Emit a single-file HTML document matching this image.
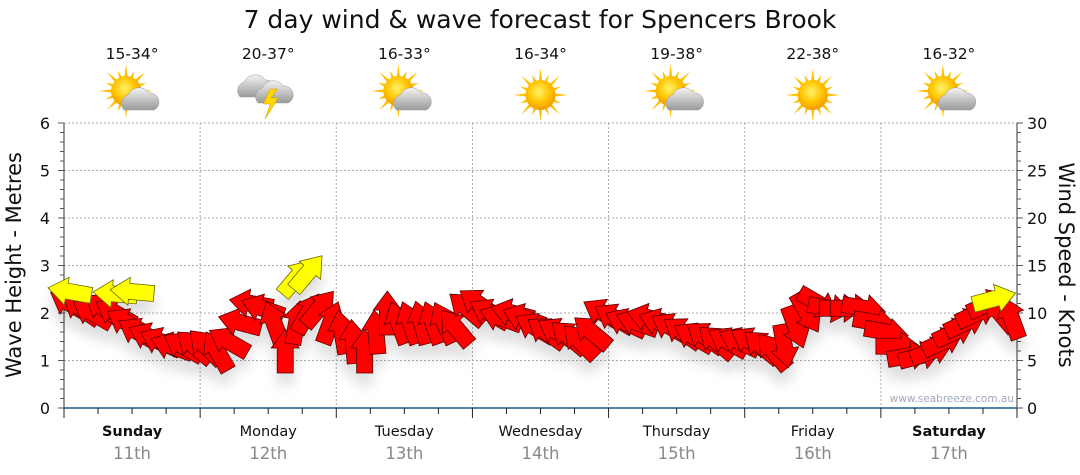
<!DOCTYPE html>
<html><head><meta charset="utf-8"><style>
html,body{margin:0;padding:0;background:#fff;}
svg{display:block;font-family:"DejaVu Sans","Liberation Sans",sans-serif;}
</style></head><body>
<svg id="chart" width="1080" height="475" viewBox="0 0 1080 475">
<defs>
<filter id="sh" x="-50%" y="-50%" width="200%" height="250%"><feDropShadow dx="0" dy="12" stdDeviation="6" flood-color="#000" flood-opacity="0.13"/></filter>
<radialGradient id="sun" cx="0.45" cy="0.4" r="0.6"><stop offset="0" stop-color="#fff36a"/><stop offset="0.6" stop-color="#ffc400"/><stop offset="1" stop-color="#f29a00"/></radialGradient>
<linearGradient id="cloud" x1="0" y1="0" x2="0" y2="1"><stop offset="0" stop-color="#f4f4f4"/><stop offset="1" stop-color="#9a9a9a"/></linearGradient>
</defs>
<text x="540" y="28" text-anchor="middle" font-size="25" fill="#111">7 day wind &amp; wave forecast for Spencers Brook</text>
<g id="grid"></g>
<g id="axes"></g>
<g id="days"></g>
<g id="marks" filter="url(#sh)"></g>
<text x="0" y="0" transform="translate(21,265) rotate(-90)" text-anchor="middle" font-size="21" fill="#111">Wave Height - Metres</text>
<text x="0" y="0" transform="translate(1059,265) rotate(90)" text-anchor="middle" font-size="21" fill="#111">Wind Speed - Knots</text>
<text x="1014" y="402" text-anchor="end" font-size="10.5" fill="#a0a8b8">www.seabreeze.com.au</text>
</svg>
<script>
const dayNames = ["Sunday","Monday","Tuesday","Wednesday","Thursday","Friday","Saturday"];
const dayDates = ["11th","12th","13th","14th","15th","16th","17th"];
const boldDays = [true,false,false,false,false,false,true];
const temps = ["15-34°","20-37°","16-33°","16-34°","19-38°","22-38°","16-32°"];
const icons = ["partly","storm","partly","sun","partly","sun","partly"];
const waveTicks = [0,1,2,3,4,5,6];
const windTicks = [0,5,10,15,20,25,30];
const windKnots = [
 11,10.5,10,10.5,10,9,8,7.5,7,6.5,6.5,6.5,
 6.5,6,7,9,11,10.5,9,6,9,10,10.5,9,
 8,7,6,8,10,9,9,9,9,9,8.5,10.5,
 11,10,9.5,10,9.5,8.5,8,8,7.5,7,8,10,
 9.5,9,9,9.5,9,8.5,8,7.5,7.5,7,7,7,
 7,6.5,6,6.5,8.5,10,11,10.5,10.5,10.5,10.5,9,
 8,6.5,5.5,5.5,6,7,8,9,10,11,10,9.5];
const windDir = [
 150,145,150,145,150,150,150,155,155,160,150,140,
 135,120,150,165,170,160,110,90,80,60,50,70,
 100,95,90,95,90,110,110,105,110,115,130,140,
 145,150,160,165,160,150,145,150,140,135,140,150,
 150,155,160,165,160,150,145,150,145,140,150,155,
 150,140,130,-80,-70,-60,-30,-10,0,0,-10,-10,
 -10,0,10,15,20,25,25,25,25,25,130,110];
const waveHours = [1,9,12,41,43,164];
const waveHeight = [2.45,2.4,2.45,2.75,2.85,2.3];
const waveDir = [170,175,175,50,50,15];

const NS="http://www.w3.org/2000/svg";
const X0=64,X1=1017,YB=408,YT=123;
const xHour=h=>X0+(X1-X0)*h/168;
const yWave=m=>YB-(YB-YT)*m/6;
const yKn=k=>YB-(YB-YT)*k/30;
function mk(tag,attrs,parent){const e=document.createElementNS(NS,tag);for(const k in attrs)e.setAttribute(k,attrs[k]);parent.appendChild(e);return e;}
const grid=document.getElementById('grid'),axes=document.getElementById('axes'),days=document.getElementById('days'),marks=document.getElementById('marks');
waveTicks.forEach(m=>{if(m>0){const l=mk('line',{x1:X0,x2:X1,y1:yWave(m),y2:yWave(m),stroke:'#aaa','stroke-dasharray':'2,2'},grid);

}});
for(let d=1;d<7;d++){const l=mk('line',{x1:xHour(d*24),x2:xHour(d*24),y1:YT,y2:YB,stroke:'#aaa','stroke-dasharray':'2,2'},grid);

}
mk('line',{x1:X0,x2:X0,y1:YT,y2:YB+4,stroke:'#333'},axes);
mk('line',{x1:X1,x2:X1,y1:YT,y2:YB+4,stroke:'#333'},axes);
for(let i=0;i<=30;i++){const y=yWave(i/5);mk('line',{x1:X0-(i%5==0?6:4),x2:X0,y1:y,y2:y,stroke:'#555'},axes);}
for(let i=0;i<=30;i++){const y=yKn(i);mk('line',{x1:X1,x2:X1+(i%5==0?6:4),y1:y,y2:y,stroke:'#555'},axes);}
waveTicks.forEach(m=>{const t=mk('text',{x:X0-14,y:yWave(m)+6,'text-anchor':'end','font-size':16,fill:'#111'},axes);t.textContent=m;

});
windTicks.forEach(k=>{const t=mk('text',{x:X1+10,y:yKn(k)+6,'font-size':16,fill:'#111'},axes);t.textContent=k;

});
mk('line',{x1:X0,x2:X1,y1:YB,y2:YB,stroke:'#1f5a85','stroke-width':1.5},axes);
for(let h=0;h<=168;h+=6){const x=xHour(h);mk('line',{x1:x,x2:x,y1:YB,y2:YB+(h%24==0?10:6),stroke:'#222'},axes);}
function icon(g,type,cx,cy){
 if(type!=='storm'){
  const sx=type==='sun'?cx:cx-6, sy=type==='sun'?cy:cy-4;
  for(let a=0;a<360;a+=22.5){const r=a*Math.PI/180;const r1=a%45==0?27:22;
   mk('polygon',{points:`${sx+Math.cos(r-0.12)*14},${sy+Math.sin(r-0.12)*14} ${sx+Math.cos(r)*r1},${sy+Math.sin(r)*r1} ${sx+Math.cos(r+0.12)*14},${sy+Math.sin(r+0.12)*14}`,fill:'#ffc000'},g);}
  mk('circle',{cx:sx,cy:sy,r:15,fill:'url(#sun)'},g);
 }
 if(type==='partly'){
  mk('path',{d:`M${cx-8},${cy+15} a9,9 0 0 1 4,-15 a12,12 0 0 1 21,-2 a9,9 0 0 1 5,17 z`,fill:'url(#cloud)',stroke:'#999','stroke-width':0.5},g);
 }
 if(type==='storm'){
  mk('path',{d:`M${cx-28},${cy+2} a9,9 0 0 1 4,-15 a12,12 0 0 1 21,-2 a9,9 0 0 1 5,17 z`,fill:'url(#cloud)',stroke:'#999','stroke-width':0.5},g);
  mk('path',{d:`M${cx-10},${cy+8} a9,9 0 0 1 4,-15 a12,12 0 0 1 21,-2 a9,9 0 0 1 5,17 z`,fill:'url(#cloud)',stroke:'#999','stroke-width':0.5},g);
  mk('polygon',{points:`${cx+2},${cy-6} ${cx-5},${cy+9} ${cx+2},${cy+9} ${cx-3},${cy+24} ${cx+10},${cy+3} ${cx+3},${cy+3} ${cx+9},${cy-6}`,fill:'#ffd800',stroke:'#c90',"stroke-width":0.5},g);
 }
}
for(let d=0;d<7;d++){
 const cx=xHour(d*24+12);
 const t=mk('text',{x:cx,y:59,'text-anchor':'middle','font-size':15.5,fill:'#111'},days);t.textContent=temps[d];
 
 
 const g=mk('g',{},days);
 
 
 icon(g,icons[d],cx,95);
 const n=mk('text',{x:cx,y:436,'text-anchor':'middle','font-size':14.5,fill:'#111','font-weight':boldDays[d]?'bold':'normal'},days);n.textContent=dayNames[d];
 
 
 const dt=mk('text',{x:cx,y:459,'text-anchor':'middle','font-size':16.5,fill:'#888'},days);dt.textContent=dayDates[d];
 
 
}
const ARW="M-22,-8 L3,-8 L3,-14 L22,0 L3,14 L3,8 L-22,8 Z";
windKnots.forEach((k,i)=>{
 const x=xHour(i*2+1),y=yKn(k);
 const p=mk('path',{d:ARW,fill:'#ff0000',stroke:'#5a0000','stroke-width':0.8,transform:`translate(${x},${y}) rotate(${-windDir[i]})`},marks);
 
 
});
waveHours.forEach((h,i)=>{
 const x=xHour(h),y=yWave(waveHeight[i]);
 const p=mk('path',{d:ARW,fill:'#ffff00',stroke:'#6a6a00','stroke-width':0.8,transform:`translate(${x},${y}) rotate(${-waveDir[i]})`},marks);
 
 
});
</script>
</body></html>
